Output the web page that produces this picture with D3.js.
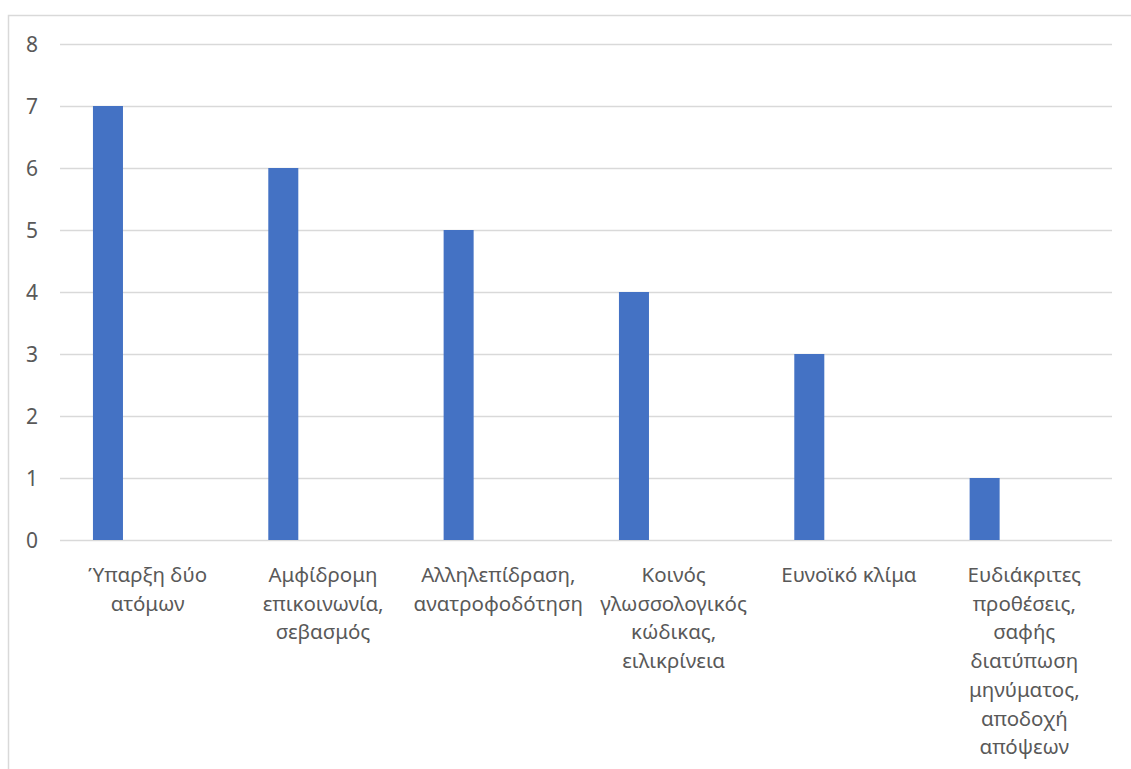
<!DOCTYPE html>
<html>
<head>
<meta charset="utf-8">
<script src="https://cdn.jsdelivr.net/npm/d3@7"></script>
<style>
  html, body { margin: 0; padding: 0; background: #fff; }
  text { font-family: "Noto Sans", "Open Sans", sans-serif; fill: #595959; }
</style>
</head>
<body>
<div id="chart"></div>
<script>
// κατηγορίες (σπασμένες σε γραμμές όπως στο πρωτότυπο)
const categories = [
    ["Ύπαρξη δύο", "ατόμων"],
    ["Αμφίδρομη", "επικοινωνία,", "σεβασμός"],
    ["Αλληλεπίδραση,", "ανατροφοδότηση"],
    ["Κοινός", "γλωσσολογικός", "κώδικας,", "ειλικρίνεια"],
    ["Ευνοϊκό κλίμα"],
    ["Ευδιάκριτες", "προθέσεις,", "σαφής", "διατύπωση", "μηνύματος,", "αποδοχή", "απόψεων"]
];
const values = [7, 6, 5, 4, 3, 1];
const yTicks = [0, 1, 2, 3, 4, 5, 6, 7, 8];
// δεύτερη (κενή) σειρά, όπως στο Excel
const seriesNames = ["value", "blank"];

const width = 1131;
const height = 769;
const margin = { top: 44, right: 19, bottom: 229, left: 60 };

const svg = d3.select("#chart")
    .append("svg")
    .attr("width", width)
    .attr("height", height);

// πλαίσιο γραφήματος
svg.append("rect")
    .attr("x", 8.5)
    .attr("y", 15.5)
    .attr("width", width + 10)
    .attr("height", height + 10)
    .attr("fill", "none")
    .attr("stroke", "#d9d9d9")
    .attr("stroke-width", 1.5);

const keys = categories.map(d => d.join(" "));

const x0 = d3.scaleBand()
    .domain(keys)
    .range([margin.left, width - margin.right])
    .padding(0);

const x1 = d3.scaleBand()
    .domain(seriesNames)
    .range([0, x0.bandwidth()])
    .paddingInner(0.622)
    .paddingOuter(0.415);

const y = d3.scaleLinear()
    .domain([0, 8])
    .range([height - margin.bottom, margin.top]);

// οριζόντιες γραμμές πλέγματος
svg.append("g")
    .selectAll("line")
    .data(yTicks)
    .enter()
    .append("line")
    .attr("x1", margin.left)
    .attr("x2", width - margin.right)
    .attr("y1", d => Math.round(y(d)) + 0.5)
    .attr("y2", d => Math.round(y(d)) + 0.5)
    .attr("stroke", "#d9d9d9")
    .attr("stroke-width", 1.5);

// άξονας y
const yAxis = svg.append("g")
    .attr("transform", `translate(${margin.left}, 0)`)
    .call(d3.axisLeft(y).tickValues(yTicks).tickFormat(d3.format("d")).tickSize(0));
yAxis.select(".domain").remove();
yAxis.selectAll(".tick text")
    .attr("x", -22)
    .attr("dy", "0.36em")
    .style("font-size", "21px")
    .style("fill", "#595959");

// μπάρες
svg.append("g")
    .selectAll("rect")
    .data(values)
    .enter()
    .append("rect")
    .attr("x", (d, i) => x0(keys[i]) + x1("value"))
    .attr("y", d => y(d))
    .attr("width", x1.bandwidth())
    .attr("height", d => y(0) - y(d))
    .attr("fill", "#4472c4");

// ετικέτες κατηγοριών
const labels = svg.append("g")
    .selectAll("text")
    .data(categories)
    .enter()
    .append("text")
    .attr("text-anchor", "middle")
    .attr("x", (d, i) => x0(keys[i]) + x0.bandwidth() / 2)
    .attr("y", y(0) + 42)
    .style("font-size", "20.5px");

labels.each(function (lines) {
    const t = d3.select(this);
    const cx = t.attr("x");
    lines.forEach((line, j) => {
        t.append("tspan")
            .attr("x", cx)
            .attr("dy", j === 0 ? 0 : 28.7)
            .text(line);
    });
});
</script>
</body>
</html>
